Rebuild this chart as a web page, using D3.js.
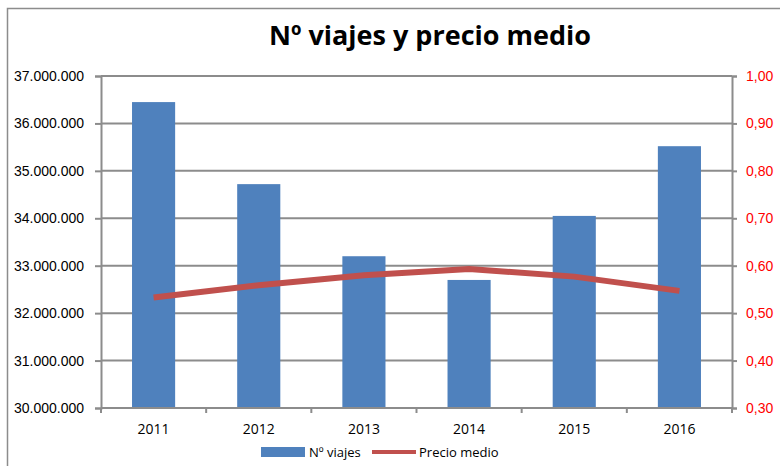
<!DOCTYPE html>
<html>
<head>
<meta charset="utf-8">
<script src="https://cdn.jsdelivr.net/npm/d3@7"></script>
<style>
  body { margin: 0; background: #fff; }
  svg { display: block; font-family: "Open Sans", "Noto Sans", sans-serif; }
</style>
</head>
<body>
<div id="chart"></div>
<script>
var years = ["2011", "2012", "2013", "2014", "2015", "2016"];
var viajes = [36450000, 34720000, 33200000, 32700000, 34050000, 35520000];
var precio = [0.533, 0.559, 0.580, 0.593, 0.577, 0.547];
var leftTicks = [30000000, 31000000, 32000000, 33000000, 34000000, 35000000, 36000000, 37000000];
var rightTicks = [0.30, 0.40, 0.50, 0.60, 0.70, 0.80, 0.90, 1.00];

var W = 780, H = 466;
var margin = { top: 76, right: 48, bottom: 58, left: 101 };
var width = W - margin.left - margin.right;
var height = H - margin.top - margin.bottom;

var svg = d3.select("#chart").append("svg")
  .attr("width", W)
  .attr("height", H);

// chart border
svg.append("rect")
  .attr("x", 7.5).attr("y", 8.5)
  .attr("width", W).attr("height", H)
  .attr("fill", "none")
  .attr("stroke", "#8c8c8c")
  .attr("stroke-width", 1.5);

svg.append("text")
  .attr("x", 430).attr("y", 45)
  .attr("text-anchor", "middle")
  .attr("font-size", 27)
  .attr("font-weight", "bold")
  .attr("fill", "#000")
  .text("Nº viajes y precio medio");

var g = svg.append("g")
  .attr("transform", "translate(" + margin.left + "," + margin.top + ")");

var x = d3.scaleBand().domain(years).range([0, width]).paddingInner(0.59).paddingOuter(0.295);
var xStep = d3.scaleBand().domain(years).range([0, width]);
var y = d3.scaleLinear().domain([30000000, 37000000]).range([height, 0]);
var y2 = d3.scaleLinear().domain([0.30, 1.00]).range([height, 0]);

var fmtL = function (d) { return d3.format(",")(d).replace(/,/g, "."); };
var fmtR = function (d) { return d3.format(".2f")(d).replace(".", ","); };

// gridlines
g.append("g")
  .selectAll("line")
  .data(leftTicks)
  .enter().append("line")
  .attr("x1", 0).attr("x2", width)
  .attr("y1", function (d) { return y(d); })
  .attr("y2", function (d) { return y(d); })
  .attr("stroke", "#8c8c8c")
  .attr("stroke-width", 2);

// bars
g.selectAll(".bar")
  .data(viajes)
  .enter().append("rect")
  .attr("class", "bar")
  .attr("x", function (d, i) { return x(years[i]); })
  .attr("y", function (d) { return y(d); })
  .attr("width", x.bandwidth())
  .attr("height", function (d) { return height - y(d); })
  .attr("fill", "#4F81BD");

// line
var line = d3.line()
  .x(function (d, i) { return xStep(years[i]) + xStep.bandwidth() / 2; })
  .y(function (d) { return y2(d); });

g.append("path")
  .datum(precio)
  .attr("d", line)
  .attr("fill", "none")
  .attr("stroke", "#C0504D")
  .attr("stroke-width", 6);

// left axis
var leftAxis = g.append("g")
  .call(d3.axisLeft(y).tickValues(leftTicks).tickFormat(fmtL).tickSize(6).tickPadding(11));
leftAxis.selectAll("path, line").attr("stroke", "#8c8c8c").attr("stroke-width", 2);
leftAxis.selectAll("text").attr("font-size", 14).attr("fill", "#000");

// right axis
var rightAxis = g.append("g")
  .attr("transform", "translate(" + width + ",0)")
  .call(d3.axisRight(y2).tickValues(rightTicks).tickFormat(fmtR).tickSize(5).tickPadding(9));
rightAxis.selectAll("path, line").attr("stroke", "#8c8c8c").attr("stroke-width", 2);
rightAxis.selectAll("text").attr("font-size", 14).attr("fill", "#ff0000");

// bottom axis
var bottom = g.append("g")
  .attr("transform", "translate(0," + height + ")");
bottom.append("line")
  .attr("x1", 0).attr("x2", width)
  .attr("stroke", "#8c8c8c").attr("stroke-width", 2);
bottom.selectAll(".tk")
  .data(years.concat(["end"]))
  .enter().append("line")
  .attr("class", "tk")
  .attr("x1", function (d, i) { return i * xStep.step(); })
  .attr("x2", function (d, i) { return i * xStep.step(); })
  .attr("y1", 0).attr("y2", 5)
  .attr("stroke", "#8c8c8c").attr("stroke-width", 2);
bottom.selectAll(".lbl")
  .data(years)
  .enter().append("text")
  .attr("class", "lbl")
  .attr("x", function (d) { return xStep(d) + xStep.bandwidth() / 2; })
  .attr("y", 26)
  .attr("text-anchor", "middle")
  .attr("font-size", 14)
  .attr("fill", "#000")
  .text(function (d) { return d; });

// legend
var legend = svg.append("g");
legend.append("rect")
  .attr("x", 261).attr("y", 447).attr("width", 44).attr("height", 10)
  .attr("fill", "#4F81BD");
legend.append("text")
  .attr("x", 309).attr("y", 457)
  .attr("font-size", 13).attr("fill", "#000")
  .text("Nº viajes");
legend.append("line")
  .attr("x1", 372).attr("x2", 416).attr("y1", 452).attr("y2", 452)
  .attr("stroke", "#C0504D").attr("stroke-width", 4);
legend.append("text")
  .attr("x", 419).attr("y", 457)
  .attr("font-size", 13).attr("fill", "#000")
  .text("Precio medio");
</script>
</body>
</html>
